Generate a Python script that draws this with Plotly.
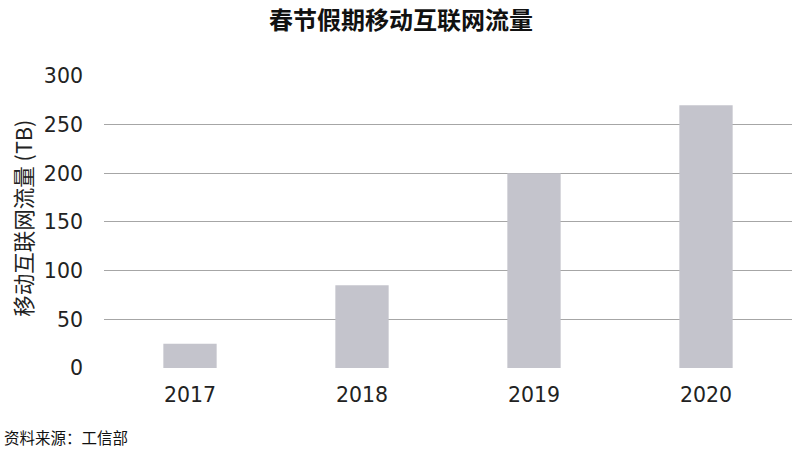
import plotly.graph_objects as go

years = ["2017", "2018", "2019", "2020"]
traffic_tb = [25, 85, 200, 270]
y_ticks = [0, 50, 100, 150, 200, 250, 300]

title_text = "春节假期移动互联网流量"
y_title = "移动互联网流量 (TB)"
source_text = "资料来源：工信部"

font_main = "DejaVu Sans, Noto Sans CJK SC, sans-serif"
font_cjk = "Noto Sans CJK SC, sans-serif"

fig = go.Figure(
    go.Bar(
        x=years,
        y=traffic_tb,
        marker=dict(color="#C4C4CC", line=dict(width=0)),
        width=0.31,
        hoverinfo="x+y",
    )
)

fig.update_layout(
    width=802,
    height=450,
    margin=dict(l=104, r=10, t=75, b=82),
    paper_bgcolor="white",
    plot_bgcolor="white",
    showlegend=False,
    font=dict(family=font_main, color="#222222"),
    title=dict(
        text="<b>" + title_text + "</b>",
        x=0.5,
        xanchor="center",
        y=0.955,
        yanchor="middle",
        font=dict(family=font_cjk, size=24, color="#111111"),
    ),
    xaxis=dict(
        showgrid=False,
        showline=False,
        zeroline=False,
        ticks="",
        tickfont=dict(size=20.5, family=font_main, color="#222222"),
        ticklabelstandoff=12,
    ),
    yaxis=dict(
        range=[0, 301],
        tickvals=y_ticks,
        showgrid=True,
        gridcolor="#A6A6A6",
        gridwidth=1.3,
        zeroline=True,
        zerolinecolor="white",
        zerolinewidth=2,
        showline=False,
        ticks="",
        tickfont=dict(size=20.5, family=font_main, color="#222222"),
        ticklabelstandoff=20,
    ),
    annotations=[
        dict(
            text=y_title,
            xref="paper",
            yref="paper",
            x=-0.119,
            y=0.51,
            xanchor="center",
            yanchor="middle",
            textangle=-90,
            showarrow=False,
            font=dict(family=font_cjk, size=21.5, color="#222222"),
        ),
        dict(
            text=source_text,
            xref="paper",
            yref="paper",
            x=(2 - 104) / 688,
            y=-(437 - 368) / 293,
            xanchor="left",
            yanchor="middle",
            showarrow=False,
            font=dict(family=font_cjk, size=15.5, color="#111111"),
        ),
    ],
)

fig.write_html(
    "out.html",
    config={"displayModeBar": False},
    post_script="document.body.style.margin='0';document.body.style.padding='0';",
)
